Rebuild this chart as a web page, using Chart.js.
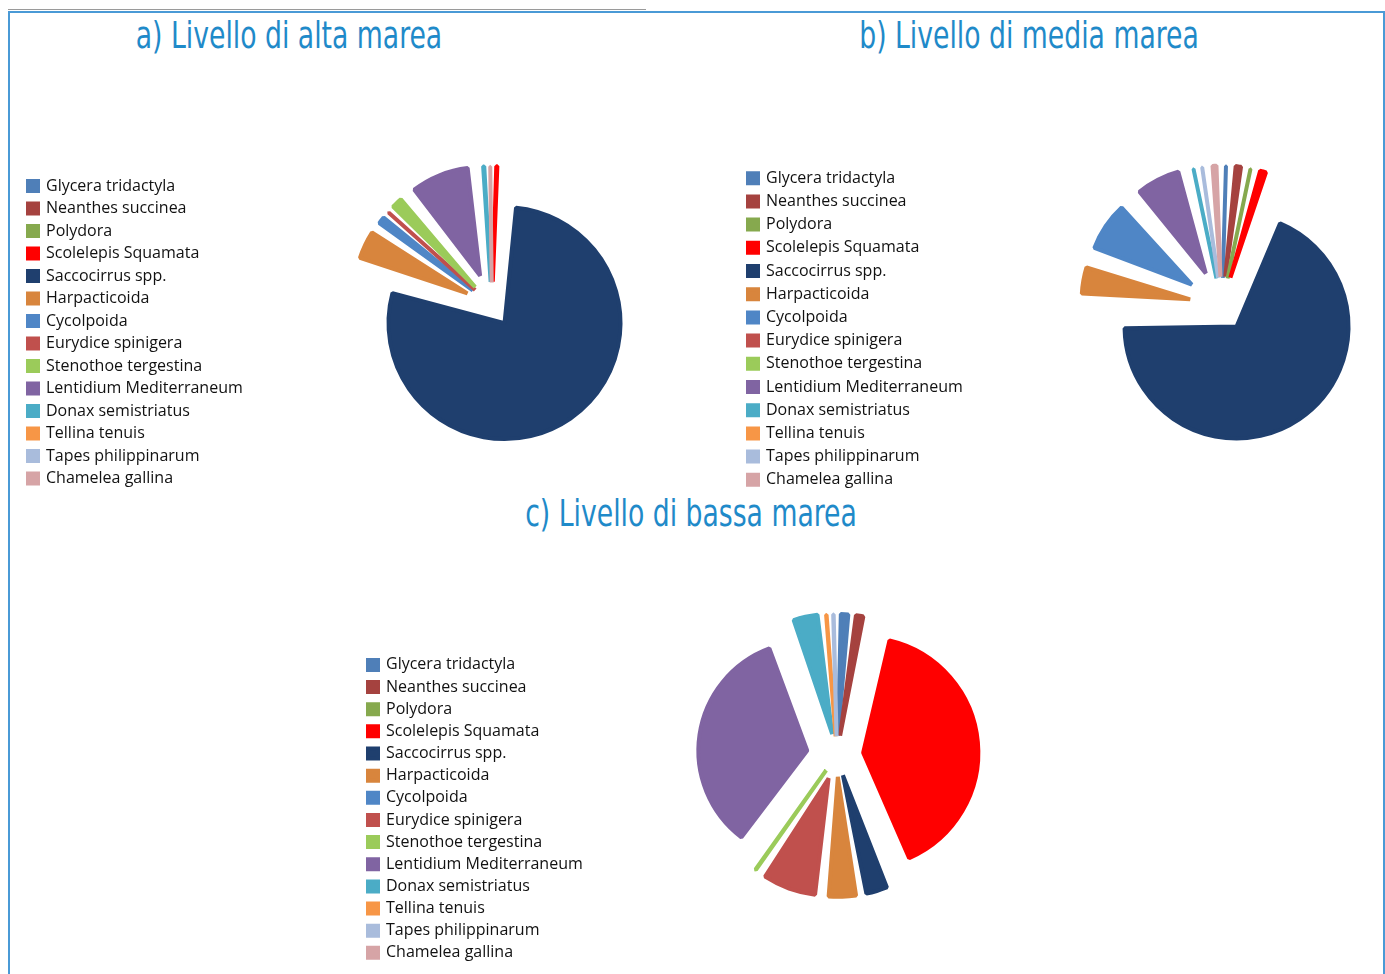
<!DOCTYPE html>
<html>
<head>
<meta charset="utf-8">
<script src="https://cdn.jsdelivr.net/npm/chart.js@4.4.1/dist/chart.umd.min.js"></script>
<style>
  html, body { margin: 0; padding: 0; background: #fff; overflow: hidden; }
  body { width: 1385px; height: 974px; position: relative; }
  .frame { position: absolute; left: 8px; top: 11px; width: 1373px; height: 980px;
           border: 2px solid #4a9ad6; border-bottom: none; }
  .topline { position: absolute; left: 8px; top: 9px; width: 638px; height: 1px; background: #9a9a9a; }
  .title { position: absolute; width: 600px; text-align: center; color: #1f8ac9;
           font-family: "Liberation Sans Narrow", "DejaVu Sans Condensed", sans-serif;
           font-size: 38px; line-height: 40px; white-space: nowrap;
           transform: scaleX(0.78); transform-origin: 50% 50%; }
  canvas { position: absolute; }
</style>
</head>
<body>
<div class="topline"></div>
<div class="frame"></div>
<div class="title" style="left:-11px; top:15px;">a) Livello di alta marea</div>
<div class="title" style="left:729px; top:15px;">b) Livello di media marea</div>
<div class="title" style="left:391px; top:493px;">c) Livello di bassa marea</div>
<canvas id="chartA" width="800" height="376" style="left:0px; top:117px;"></canvas>
<canvas id="chartB" width="800" height="380" style="left:700px; top:115px;"></canvas>
<canvas id="chartC" width="820" height="424" style="left:300px; top:543px;"></canvas>
<script>
const species = ['Glycera tridactyla', 'Neanthes succinea', 'Polydora', 'Scolelepis Squamata',
  'Saccocirrus spp.', 'Harpacticoida', 'Cycolpoida', 'Eurydice spinigera', 'Stenothoe tergestina',
  'Lentidium Mediterraneum', 'Donax semistriatus', 'Tellina tenuis', 'Tapes philippinarum', 'Chamelea gallina'];

const colors = ['#4f7fb8', '#a5423f', '#86a94e', '#ff0000', '#1f3f6e', '#d8853d', '#4f86c6',
  '#c0504d', '#9bcb5a', '#8064a2', '#4bacc6', '#f79646', '#a9bcdc', '#d6a4a6'];

// percentages
const altaMarea  = [0, 0, 0, 1.1, 78.3, 4.8, 1.9, 0.5, 2.4, 9.2, 1.1, 0, 0, 0.4];
const mediaMarea = [0.9, 1.9, 0.9, 2.0, 68.8, 4.9, 8.3, 0, 0, 7.5, 0.9, 0, 1.1, 1.7];
const bassaMarea = [1.7, 1.7, 0, 40.0, 3.5, 4.3, 0, 7.8, 0.8, 34.0, 3.9, 0.8, 0.8, 0];

// exploded slices: push wide slices out a bit more so the outer rims line up
function explode(base) {
  return (ctx) => {
    const data = ctx.dataset.data;
    const total = data.reduce((s, v) => s + v, 0);
    const angle = Math.min(Math.PI, 2 * Math.PI * data[ctx.dataIndex] / total);
    const fix = 1 - Math.sin(angle);
    return 4 * base * (1 + 0.8 * (1 - fix));
  };
}

function makePie(id, values, opts) {
  const chart = new Chart(document.getElementById(id), {
    type: 'pie',
    data: {
      labels: species,
      datasets: [{
        data: values,
        backgroundColor: colors,
        borderColor: colors,
        borderWidth: 4,
        offset: explode(opts.explode),
        hoverOffset: 0
      }]
    },
    options: {
      responsive: false,
      animation: false,
      radius: opts.radius,
      layout: { padding: { left: opts.padLeft, right: 0, top: 0, bottom: 0 } },
      plugins: {
        tooltip: { enabled: false },
        legend: {
          position: 'left',
          align: 'end',
          labels: {
            boxWidth: 10,
            boxHeight: 10,
            padding: opts.rowPad,
            color: '#111',
            font: { family: 'Open Sans', size: 16 }
          }
        }
      }
    }
  });
  // move the pie to its spot: trim the chart area on the right
  const area = chart.chartArea;
  const right = 2 * opts.centerX - area.left;
  chart.options.layout.padding.right = Math.max(0, chart.width - right);
  chart.update();
  return chart;
}

makePie('chartA', altaMarea,  { explode: 22, radius: 94,  padLeft: 21.5,  rowPad: 6.5,  centerX: 492 });
makePie('chartB', mediaMarea, { explode: 26, radius: 86,  padLeft: 40.8,  rowPad: 7.2,  centerX: 522 });
makePie('chartC', bassaMarea, { explode: 18, radius: 104, padLeft: 61.85, rowPad: 6.15, centerX: 537 });
</script>
</body>
</html>
